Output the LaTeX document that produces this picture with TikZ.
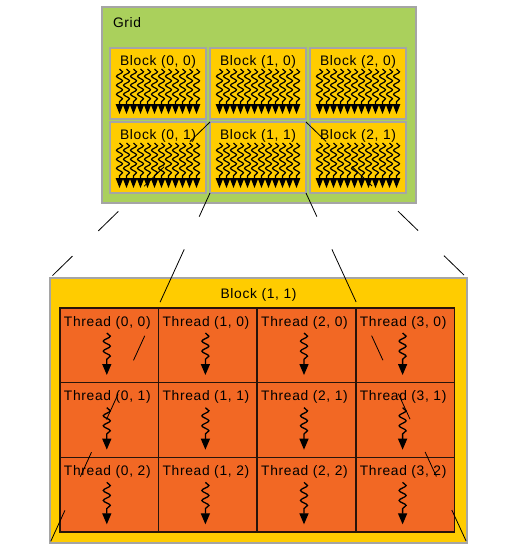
\documentclass[tikz,border=0pt]{standalone}
\usepackage{fontspec}
\setmainfont{Liberation Sans}[LetterSpace=5]
\usetikzlibrary{decorations.pathmorphing,arrows.meta,calc}
\definecolor{gridgreen}{RGB}{170,208,92}
\definecolor{blockyellow}{RGB}{255,204,0}
\definecolor{threadorange}{RGB}{242,104,36}
\definecolor{framegray}{RGB}{165,165,165}
\definecolor{celledge}{RGB}{40,20,10}
\begin{document}
\begin{tikzpicture}[x=1pt,y=-1pt,
  every node/.style={inner sep=0pt,outer sep=0pt},
  gridbox/.style={draw=framegray,line width=1.5pt,fill=gridgreen,anchor=north west},
  blockbox/.style={draw=framegray,line width=1.5pt,fill=blockyellow,anchor=north west,minimum width=96pt,minimum height=71pt},
  bigblock/.style={draw=framegray,line width=1.5pt,fill=blockyellow,anchor=north west},
  threadcell/.style={draw=celledge,line width=1.5pt,fill=threadorange,anchor=north west,minimum width=98.6pt,minimum height=74.67pt},
  lbl/.style={font=\fontsize{13.8}{16}\selectfont,text=black},
  miniwarp/.style={line width=1.2pt,decorate,decoration={snake,amplitude=3pt,segment length=9pt,post length=11pt},-{Triangle[width=7.5pt,length=10pt]}},
  threadwarp/.style={line width=1.3pt,decorate,decoration={snake,amplitude=3.5pt,segment length=10pt,post length=13pt},-{Triangle[width=9pt,length=11pt]}},
  connector/.style={line width=0.8pt,dash pattern=on 28pt off 36pt},
  longconnector/.style={line width=0.8pt,dash pattern=on 26pt off 36pt on 58pt off 37pt on 27pt off 37pt on 28pt off 36pt on 27pt off 37pt on 34pt off 20pt}
]
\useasboundingbox (0,0) rectangle (519,547);
% grid
\node[gridbox,minimum width=314pt,minimum height=196pt] (grid) at (102,7) {};
\node[lbl,anchor=base west] (gridlabel) at (113,27) {Grid};
\foreach \i in {0,1,2}{
  \foreach \j in {0,1}{
    \node[blockbox] (b-\i-\j) at (110+100*\i,48+74*\j) {};
    \node[lbl,anchor=base] (bl-\i-\j) at ($(b-\i-\j.north)+(0,17.5)$) {Block (\i, \j)};
    \foreach \k in {0,...,11}{
      \draw[miniwarp] ($(b-\i-\j.north)+(-38.5+7*\k,21)$) -- ($(b-\i-\j.north)+(-38.5+7*\k,66)$);
    }
  }
}
% enlarged block
\node[bigblock,minimum width=417pt,minimum height=265pt] (big) at (50,278) {};
\node[lbl,anchor=base] (biglabel) at ($(big.north)+(0,20.5)$) {Block (1, 1)};
\foreach \i in {0,1,2,3}{
  \foreach \j in {0,1,2}{
    \node[threadcell] (t-\i-\j) at (60+98.6*\i,308+74.67*\j) {};
  }
}
\foreach \i in {0,1,2,3}{
  \foreach \j in {0,1,2}{
    \node[lbl,anchor=base] (tl-\i-\j) at ($(t-\i-\j.north)+(-2,18)$) {Thread (\i, \j)};
    \draw[threadwarp] ($(t-\i-\j.north)+(-2.5,25)$) -- ($(t-\i-\j.north)+(-2.5,67)$);
  }
}
% connectors
\draw[connector] (b-1-1.north west) -- (big.north west);
\draw[longconnector] (b-1-1.south west) -- (big.south west);
\draw[connector] (b-1-1.north east) -- (big.north east);
\draw[longconnector] (b-1-1.south east) -- (big.south east);
\end{tikzpicture}
\end{document}
